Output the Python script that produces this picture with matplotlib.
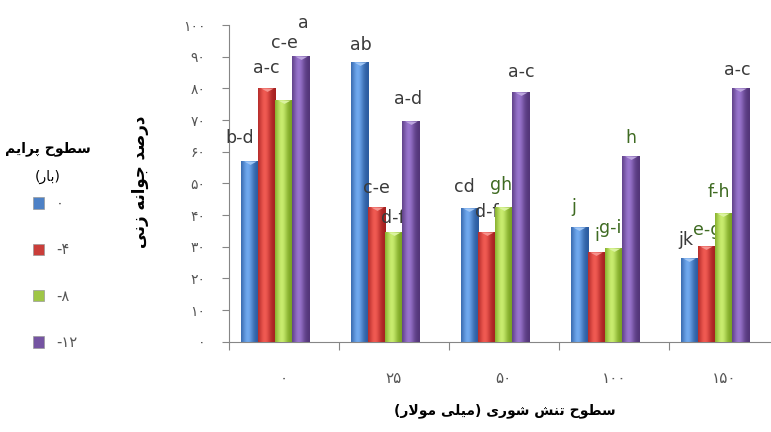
import numpy as np
import matplotlib
matplotlib.use('Agg')
from matplotlib import pyplot as plt
from matplotlib.patches import Patch

# salinity stress levels (mM) and priming levels (bar)
salinity = ['۰', '۲۵', '۵۰', '۱۰۰', '۱۵۰']
priming = ['۰', '-۴', '-۸', '-۱۲']

# germination percentage for each priming level
germ_p0 = [57.2, 88.4, 42.3, 36.3, 26.3]
germ_p4 = [80.2, 42.4, 34.5, 28.2, 30.3]
germ_p8 = [76.3, 34.7, 42.4, 29.5, 40.5]
germ_p12 = [90.2, 69.8, 79.0, 58.6, 80.2]

# Duncan grouping letters
letters_p0 = ['b-d', 'ab', 'cd', 'j', 'jk']
letters_p4 = ['a-c', 'c-e', 'd-f', 'i', 'e-g']
letters_p8 = ['c-e', 'd-f', 'gh', 'g-i', 'f-h']
letters_p12 = ['a', 'a-d', 'a-c', 'h', 'a-c']

# where each letter sits (x shift in category units, y centre in %)
label_dx = [[-0.09, 0.01, -0.05, -0.055, -0.03],
            [0.0, 0.0, 0.0, 0.0, 0.01],
            [0.01, -0.01, -0.02, -0.03, -0.045],
            [0.02, -0.02, 0.01, 0.0, -0.03]]
label_y = [[64.3, 93.7, 48.9, 42.5, 32.1],
           [86.4, 48.5, 41.0, 33.5, 35.3],
           [94.3, 39.0, 49.5, 35.9, 47.3],
           [100.6, 76.6, 85.2, 64.3, 85.8]]
green_text = {(2, 2), (0, 3), (1, 3), (2, 3), (3, 3), (1, 4), (2, 4)}

# (edge, highlight) colours of each series
shades = [('#2a5a9e', '#6fa8ee'),
          ('#a41f1f', '#f05a52'),
          ('#76a01e', '#c8ec6e'),
          ('#513477', '#9874cc')]

# Persian letters -> (isolated, final, initial, medial) presentation forms
FORMS = {
    'ا': ('\uFE8D', '\uFE8E', None, None),
    'ب': ('\uFE8F', '\uFE90', '\uFE91', '\uFE92'),
    'پ': ('\uFB56', '\uFB57', '\uFB58', '\uFB59'),
    'ت': ('\uFE95', '\uFE96', '\uFE97', '\uFE98'),
    'ج': ('\uFE9D', '\uFE9E', '\uFE9F', '\uFEA0'),
    'ح': ('\uFEA1', '\uFEA2', '\uFEA3', '\uFEA4'),
    'د': ('\uFEA9', '\uFEAA', None, None),
    'ر': ('\uFEAD', '\uFEAE', None, None),
    'ز': ('\uFEAF', '\uFEB0', None, None),
    'س': ('\uFEB1', '\uFEB2', '\uFEB3', '\uFEB4'),
    'ش': ('\uFEB5', '\uFEB6', '\uFEB7', '\uFEB8'),
    'ص': ('\uFEB9', '\uFEBA', '\uFEBB', '\uFEBC'),
    'ط': ('\uFEC1', '\uFEC2', '\uFEC3', '\uFEC4'),
    'ل': ('\uFEDD', '\uFEDE', '\uFEDF', '\uFEE0'),
    'م': ('\uFEE1', '\uFEE2', '\uFEE3', '\uFEE4'),
    'ن': ('\uFEE5', '\uFEE6', '\uFEE7', '\uFEE8'),
    'ه': ('\uFEE9', '\uFEEA', '\uFEEB', '\uFEEC'),
    'و': ('\uFEED', '\uFEEE', None, None),
    'ی': ('\uFBFC', '\uFBFD', '\uFBFE', '\uFBFF'),
}


def fa(text):
    """Join Persian letters and lay them out right to left."""
    out = []
    i = 0
    while i < len(text):
        c = text[i]
        if c not in FORMS:
            out.append(c)
            i += 1
            continue
        prev = text[i - 1] if i > 0 else ''
        joined = prev in FORMS and FORMS[prev][2] is not None
        nxt = text[i + 1] if i + 1 < len(text) else ''
        if c == 'ل' and nxt == 'ا':
            out.append('\uFEFC' if joined else '\uFEFB')
            i += 2
            continue
        isol, fin, ini, med = FORMS[c]
        links = nxt in FORMS and ini is not None
        if joined and links:
            out.append(med)
        elif joined:
            out.append(fin)
        elif links:
            out.append(ini)
        else:
            out.append(isol)
        i += 1
    s = ''.join(reversed(out))
    return s.translate(str.maketrans('()', ')('))


def fa_num(n):
    return str(n).translate(str.maketrans('0123456789', '۰۱۲۳۴۵۶۷۸۹'))


plt.rcParams['font.family'] = ['DejaVu Sans', 'Noto Sans']

series = [germ_p0, germ_p4, germ_p8, germ_p12]
letters = [letters_p0, letters_p4, letters_p8, letters_p12]

fig = plt.figure(figsize=(7.71, 4.32), dpi=100)
ax = fig.add_axes([0.297, 0.209, 0.703, 0.733])

x = np.arange(len(salinity))
width = 0.155
shift = -0.08
t = np.linspace(0, 1, 64)
glow = np.exp(-((t - 0.38) / 0.32) ** 2)

for j, vals in enumerate(series):
    edge, light = (np.array(matplotlib.colors.to_rgb(c)) for c in shades[j])
    grad = edge + (light - edge) * glow[:, None]
    xs = x + shift + (j - 1.5) * width
    bars = ax.bar(xs, vals, width, color='none', zorder=2 + 2 * j)
    for b in bars:
        img = ax.imshow(grad[None, :, :], aspect='auto',
                        extent=[b.get_x(), b.get_x() + b.get_width(), 0, b.get_height()],
                        zorder=2 + 2 * j)
        img.set_clip_path(b)
    # bevelled cap on top of each bar
    cap = light + (1 - light) * 0.35
    ax.plot(xs, vals, ls='none', marker=[(-1, 0), (1, 0), (0, -0.55)],
            markersize=9, color=cap, mec='none', zorder=2 + 2 * j)
    for i, lab in enumerate(letters[j]):
        col = '#3f6b22' if (j, i) in green_text else '#3a3a3a'
        ax.text(xs[i] + label_dx[j][i], label_y[j][i], lab, ha='center',
                va='center', fontsize=12.5, color=col, zorder=3 + 2 * j)

ax.set_xlim(-0.5, 4.43)
ax.set_ylim(0, 100)

ax.set_yticks(range(0, 101, 10))
ax.set_yticklabels([fa_num(v) for v in range(0, 101, 10)])
ax.set_xticks(x)
ax.set_xticklabels(salinity)
ax.set_xticks(x - 0.5, minor=True)
ax.tick_params(axis='x', which='major', length=0, pad=21, labelsize=11,
               labelcolor='#555555')
ax.tick_params(axis='x', which='minor', length=6, width=0.8, color='#868686')
ax.tick_params(axis='y', length=5, width=0.8, color='#868686', pad=12,
               labelsize=10, labelcolor='#555555')
for side in ['top', 'right']:
    ax.spines[side].set_visible(False)
for side in ['left', 'bottom']:
    ax.spines[side].set_color('#868686')
    ax.spines[side].set_linewidth(0.8)

fig.text(0.182, 0.578, fa('درصد جوانه زنی'), rotation=90, ha='center',
         va='center', fontsize=12, fontweight='bold')
fig.text(0.655, 0.05, fa('سطوح تنش شوری (میلی مولار)'), ha='center',
         va='center', fontsize=10, fontweight='bold')
fig.text(0.062, 0.657, fa('سطوح پرایم'), ha='center', va='center',
         fontsize=10, fontweight='bold')
fig.text(0.062, 0.59, fa('(بار)'), ha='center', va='center', fontsize=10)

handles = [Patch(facecolor=np.mean([matplotlib.colors.to_rgb(c) for c in s], axis=0),
                 edgecolor='#9a9a9a', linewidth=0.5) for s in shades]
fig.legend(handles, priming, loc='upper left', bbox_to_anchor=(0.033, 0.563),
           frameon=False, fontsize=10.5, labelspacing=2.15, handlelength=0.8,
           handleheight=0.8, handletextpad=0.8, borderpad=0, labelcolor='#555555')

fig.savefig('out.png', dpi=100)
